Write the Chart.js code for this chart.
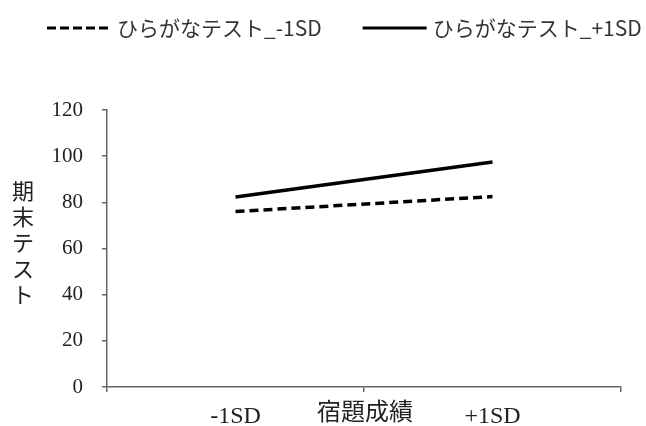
<!DOCTYPE html>
<html>
<head>
<meta charset="utf-8">
<script src="https://cdn.jsdelivr.net/npm/chart.js@4"></script>
<style>
  html, body { margin: 0; padding: 0; background: #fff; }
  #wrap { width: 646px; height: 426px; }
</style>
</head>
<body>
<div id="wrap"><canvas id="c" width="646" height="426"></canvas></div>
<script>
// 宿題成績 (-1SD / +1SD) ごとの期末テスト予測値
const categories = ['-1SD', '+1SD'];
const seriesLow  = [76, 82.5];   // ひらがなテスト_-1SD
const seriesHigh = [82.3, 97.5]; // ひらがなテスト_+1SD
const seriesNames = ['ひらがなテスト_-1SD', 'ひらがなテスト_+1SD'];
const yTicks = [0, 20, 40, 60, 80, 100, 120];
const yTitle = '期末テスト';
const xTitle = '宿題成績';

const JP = '"Noto Sans CJK JP", "Noto Sans", sans-serif';
const SERIF = '"Liberation Serif", "DejaVu Serif", serif';

// Legend row across the top: line sample followed by its label
const topLegend = {
  id: 'topLegend',
  afterDraw(chart) {
    const ctx = chart.ctx;
    ctx.save();
    ctx.font = '21px ' + JP;
    ctx.textBaseline = 'middle';
    ctx.textAlign = 'left';
    let x = 47;
    const y = 28;
    chart.data.datasets.forEach(ds => {
      ctx.beginPath();
      ctx.strokeStyle = ds.borderColor;
      ctx.lineWidth = 3;
      ctx.setLineDash(ds.legendDash || []);
      ctx.moveTo(x, y);
      ctx.lineTo(x + 64, y);
      ctx.stroke();
      ctx.setLineDash([]);
      ctx.fillStyle = '#333';
      ctx.fillText(ds.label, x + 70, y);
      x += 70 + ctx.measureText(ds.label).width + 41;
    });
    ctx.restore();
  }
};

// Axis titles: vertical stacked y title, x title between the category labels
const axisTitles = {
  id: 'axisTitles',
  afterDraw(chart) {
    const ctx = chart.ctx;
    const area = chart.chartArea;
    ctx.save();
    ctx.fillStyle = '#222';
    ctx.textAlign = 'center';
    ctx.textBaseline = 'middle';
    ctx.font = '22px ' + JP;
    const chars = Array.from(yTitle);
    const step = 26;
    const midY = (area.top + area.bottom) / 2 - 6;
    const y0 = midY - step * (chars.length - 1) / 2;
    chars.forEach((ch, i) => ctx.fillText(ch, 23, y0 + i * step));
    ctx.font = '24px ' + JP;
    ctx.fillText(xTitle, (area.left + area.right) / 2 + 1, 411);
    ctx.restore();
  }
};

new Chart(document.getElementById('c'), {
  type: 'line',
  data: {
    labels: categories,
    datasets: [
      {
        label: seriesNames[0],
        data: seriesLow,
        borderColor: '#000',
        borderWidth: 3.5,
        borderDash: [9, 5],
        legendDash: [9, 4],
        pointRadius: 0,
        tension: 0,
        fill: false
      },
      {
        label: seriesNames[1],
        data: seriesHigh,
        borderColor: '#000',
        borderWidth: 3.5,
        pointRadius: 0,
        tension: 0,
        fill: false
      }
    ]
  },
  options: {
    responsive: false,
    animation: false,
    devicePixelRatio: 1,
    layout: { padding: { top: 110, right: 25, bottom: 0, left: 53 } },
    plugins: {
      legend: { display: false },
      tooltip: { enabled: false }
    },
    scales: {
      x: {
        type: 'category',
        offset: true,
        afterFit(scale) { scale.height = 39; },
        grid: {
          offset: true,
          drawOnChartArea: false,
          drawTicks: true,
          tickLength: 5,
          color: '#666',
          lineWidth: 1.5
        },
        border: { display: true, color: '#666', width: 1.5 },
        ticks: {
          padding: 13,
          color: '#222',
          font: { family: SERIF, size: 24, lineHeight: 1 },
          maxRotation: 0
        }
      },
      y: {
        min: 0,
        max: 120,
        afterFit(scale) { scale.width = 54; },
        afterBuildTicks(scale) {
          scale.ticks = yTicks.map(v => ({ value: v }));
        },
        grid: {
          drawOnChartArea: false,
          drawTicks: true,
          tickLength: 5,
          color: '#666',
          lineWidth: 1.5
        },
        border: { display: true, color: '#666', width: 1.5 },
        ticks: {
          padding: 19,
          color: '#222',
          font: { family: SERIF, size: 21 }
        }
      }
    }
  },
  plugins: [topLegend, axisTitles]
});
</script>
</body>
</html>
